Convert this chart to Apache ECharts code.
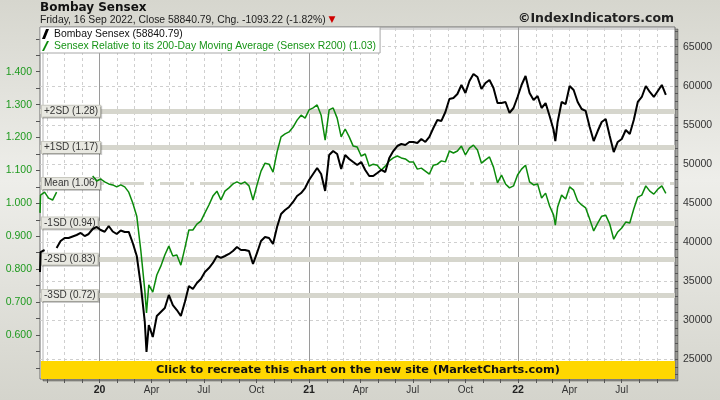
<!DOCTYPE html>
<html>
<head>
<meta charset="utf-8">
<script src="https://cdn.jsdelivr.net/npm/echarts@6/dist/echarts.min.js"></script>
<style>
  html, body { margin: 0; padding: 0; }
  #chart { width: 720px; height: 400px; }
</style>
</head>
<body>
<div id="chart"></div>
<script>
// weekly closes (Fridays), plus a few swing points
var dates = [
  "2019-09-19","2019-09-20","2019-09-27","2019-10-04","2019-10-11","2019-10-18","2019-10-25","2019-11-01","2019-11-08","2019-11-15",
  "2019-11-22","2019-11-29","2019-12-06","2019-12-13","2019-12-20","2019-12-27","2020-01-03","2020-01-10","2020-01-17","2020-01-24",
  "2020-01-31","2020-02-07","2020-02-14","2020-02-21","2020-02-28","2020-03-06","2020-03-13","2020-03-20","2020-03-23","2020-03-27",
  "2020-04-03","2020-04-10","2020-04-17","2020-04-24","2020-05-01","2020-05-08","2020-05-15","2020-05-22","2020-05-29","2020-06-05",
  "2020-06-12","2020-06-19","2020-06-26","2020-07-03","2020-07-10","2020-07-17","2020-07-24","2020-07-31","2020-08-07","2020-08-14",
  "2020-08-21","2020-08-28","2020-09-04","2020-09-11","2020-09-18","2020-09-25","2020-10-02","2020-10-09","2020-10-16","2020-10-23",
  "2020-10-30","2020-11-06","2020-11-13","2020-11-20","2020-11-27","2020-12-04","2020-12-11","2020-12-18","2020-12-25","2021-01-01",
  "2021-01-08","2021-01-15","2021-01-22","2021-01-29","2021-02-05","2021-02-12","2021-02-19","2021-02-26","2021-03-05","2021-03-12",
  "2021-03-19","2021-03-26","2021-04-02","2021-04-09","2021-04-16","2021-04-23","2021-04-30","2021-05-07","2021-05-14","2021-05-21",
  "2021-05-28","2021-06-04","2021-06-11","2021-06-18","2021-06-25","2021-07-02","2021-07-09","2021-07-16","2021-07-23","2021-07-30",
  "2021-08-06","2021-08-13","2021-08-20","2021-08-27","2021-09-03","2021-09-10","2021-09-17","2021-09-24","2021-10-01","2021-10-08",
  "2021-10-15","2021-10-22","2021-10-29","2021-11-05","2021-11-12","2021-11-19","2021-11-26","2021-12-03","2021-12-10","2021-12-17",
  "2021-12-24","2021-12-31","2022-01-07","2022-01-14","2022-01-21","2022-01-28","2022-02-04","2022-02-11","2022-02-18","2022-02-25",
  "2022-03-04","2022-03-07","2022-03-11","2022-03-18","2022-03-25","2022-04-01","2022-04-08","2022-04-15","2022-04-22","2022-04-29",
  "2022-05-06","2022-05-13","2022-05-20","2022-05-27","2022-06-03","2022-06-10","2022-06-17","2022-06-24","2022-07-01","2022-07-08",
  "2022-07-15","2022-07-22","2022-07-29","2022-08-05","2022-08-12","2022-08-19","2022-08-26","2022-09-02","2022-09-09","2022-09-16"
];

var sensex = [
  36140, 38700, 38960, null, null, 39220, 40110, 40500, 40500, 40690,
  40880, 41140, 40750, 41010, 41650, 41910, 41520, 41300, 42030, 41330,
  41010, 41460, 41270, 41270, 39860, 38190, 34480, 29740, 25890, 29350,
  27820, 30510, 31020, 31530, 33200, 31910, 31270, 30510, 32300, 34350,
  33960, 34730, 35250, 36140, 36650, 37300, 38190, 37940, 38190, 38450,
  38830, 39340, 38960, 38960, 38830, 37170, 38580, 40110, 40630, 40500,
  39730, 41910, 43570, 44080, 44470, 45110, 45880, 46260, 46900, 47930,
  48700, 49460, 48700, 46520, 51130, 51640, 51260, 49340, 51130, 50620,
  50230, 49850, 50230, 49210, 48440, 48440, 48820, 49210, 48950, 50750,
  51640, 52280, 52540, 52410, 52800, 52800, 52670, 53180, 52800, 53440,
  54590, 55610, 55490, 56640, 58300, 58430, 58940, 60100, 59070, 60610,
  61510, 61120, 59580, 60350, 60740, 59710, 57790, 57790, 57920, 56510,
  57150, 58560, 60100, 61250, 59070, 58180, 58690, 57150, 57790, 56130,
  54330, 52920, 55360, 57920, 57660, 59970, 59460, 57920, 57020, 56770,
  54720, 52920, 54200, 55360, 55740, 53560, 51510, 52800, 53180, 54330,
  53820, 55610, 57920, 58560, 59970, 59200, 58560, 59330, 60100, 58840.79
];

var r200 = [
  0.971, 1.025, 1.034, 1.016, 1.010, 1.034, null, null, null, null,
  null, null, null, null, 1.083, 1.068, 1.074, 1.065, 1.059, 1.056,
  1.050, 1.056, 1.050, 1.034, 1.001, 0.961, 0.858, 0.736, 0.667, 0.752,
  0.730, 0.782, 0.809, 0.843, 0.870, 0.840, 0.843, 0.812, 0.864, 0.919,
  0.919, 0.937, 0.946, 0.971, 0.995, 1.022, 1.037, 1.010, 1.037, 1.047,
  1.059, 1.065, 1.059, 1.065, 1.053, 1.010, 1.056, 1.098, 1.122, 1.119,
  1.095, 1.156, 1.202, 1.211, 1.217, 1.232, 1.253, 1.268, 1.259, 1.284,
  1.290, 1.299, 1.268, 1.192, 1.284, 1.290, 1.259, 1.202, 1.226, 1.202,
  1.174, 1.171, 1.144, 1.150, 1.113, 1.119, 1.116, 1.101, 1.113, 1.129,
  1.138, 1.144, 1.138, 1.135, 1.126, 1.126, 1.104, 1.107, 1.098, 1.089,
  1.116, 1.119, 1.129, 1.126, 1.159, 1.153, 1.159, 1.174, 1.147, 1.168,
  1.177, 1.162, 1.122, 1.132, 1.141, 1.110, 1.062, 1.086, 1.059, 1.047,
  1.053, 1.086, 1.104, 1.116, 1.065, 1.056, 1.059, 1.016, 1.031, 0.992,
  0.964, 0.934, 0.989, 1.025, 1.013, 1.050, 1.040, 1.007, 0.995, 0.986,
  0.952, 0.916, 0.940, 0.961, 0.964, 0.937, 0.891, 0.913, 0.925, 0.943,
  0.940, 0.983, 1.019, 1.025, 1.053, 1.037, 1.028, 1.043, 1.053, 1.03
];

var quarterDates = ["2020-01-01","2020-04-01","2020-07-01","2020-10-01","2021-01-01","2021-04-01",
                    "2021-07-01","2021-10-01","2022-01-01","2022-04-01","2022-07-01"];
var quarterLabels = ["20","Apr","Jul","Oct","21","Apr","Jul","Oct","22","Apr","Jul"];
var yearStarts = ["2020-01-01","2021-01-01","2022-01-01"];

var sensexTicks = [25000, 30000, 35000, 40000, 45000, 50000, 55000, 60000, 65000];
var ratioTicks = [0.6, 0.7, 0.8, 0.9, 1.0, 1.1, 1.2, 1.3, 1.4];

var sdNames = ["+2SD", "+1SD", "-1SD", "-2SD", "-3SD"];
var sdLevels = [1.28, 1.17, 0.94, 0.83, 0.72];
var meanLevel = 1.06;

var blackName = "Bombay Sensex (58840.79)";
var greenName = "Sensex Relative to its 200-Day Moving Average (Sensex R200) (1.03)";

var FONT = "Liberation Sans";
var parse = function (d) { return +echarts.time.parse(d); };

// month ticks / gridlines
var monthTicks = [];
for (var y = 2019; y <= 2022; y++) {
  for (var m = 1; m <= 12; m++) {
    var s = y + "-" + (m < 10 ? "0" + m : m) + "-01";
    if (s >= "2019-10-01" && s <= "2022-09-01") monthTicks.push(parse(s));
  }
}
var quarterTicks = quarterDates.map(parse);
var yearTicks = yearStarts.map(parse);

var rightMinor = [];
for (var v = 23000; v <= 67000; v += 1000) rightMinor.push(v);
var leftMinor = [];
for (var r = 50; r <= 150; r += 5) leftMinor.push(r / 100);

var gridLines = [];
sensexTicks.forEach(function (v) {
  gridLines.push({ yAxis: v, lineStyle: { color: "#cfcfcf", type: [3, 3], width: 1 } });
});
monthTicks.forEach(function (t) {
  if (yearTicks.indexOf(t) >= 0) {
    gridLines.push({ xAxis: t, lineStyle: { color: "#9a9a9a", type: "solid", width: 1 } });
  } else {
    gridLines.push({ xAxis: t, lineStyle: { color: "#cfcfcf", type: [3, 3], width: 1 } });
  }
});

var bands = sdLevels.map(function (v, i) {
  return {
    yAxis: v,
    lineStyle: { color: "#d6d6cd", width: 5, type: "solid" },
    label: { formatter: sdNames[i] + " (" + v.toFixed(2) + ")" }
  };
});
bands.push({
  yAxis: meanLevel,
  lineStyle: { color: "#d6d6cd", width: 3, type: [24, 6, 4, 6] },
  label: { formatter: "Mean (" + meanLevel.toFixed(2) + ")" }
});

var chart = echarts.init(document.getElementById("chart"));
chart.setOption({
  animation: false,
  backgroundColor: new echarts.graphic.LinearGradient(0, 0, 0, 1, [
    { offset: 0, color: "#d6d6ce" },
    { offset: 0.45, color: "#eeeeea" },
    { offset: 1, color: "#d4d4cc" }
  ]),
  textStyle: { fontFamily: FONT },
  title: [
    {
      text: "Bombay Sensex", left: 40, top: 2, padding: 0,
      textStyle: { fontFamily: "DejaVu Sans", fontWeight: "bold", fontSize: 12, color: "#111" }
    },
    {
      text: "Friday, 16 Sep 2022, Close 58840.79, Chg. -1093.22 (-1.82%) {t|▼}", left: 40, top: 15, padding: 0,
      textStyle: {
        fontFamily: FONT, fontWeight: "normal", fontSize: 10.4, color: "#222",
        rich: { t: { color: "#d00000", fontSize: 9, fontFamily: "DejaVu Sans" } }
      }
    },
    {
      text: "©IndexIndicators.com", right: 46, top: 12, padding: 0,
      textStyle: { fontFamily: "DejaVu Sans", fontWeight: "bold", fontSize: 12.5, color: "#222" }
    }
  ],
  legend: {
    left: 40, top: 27, orient: "vertical",
    backgroundColor: "#fff", borderColor: "#a8a8a8", borderWidth: 1,
    padding: [2, 4, 2, 2], itemGap: 2, itemWidth: 7, itemHeight: 10,
    selectedMode: false,
    textStyle: { fontFamily: FONT, fontSize: 10.4 },
    data: [
      { name: blackName, icon: "path://M4,0 L7,0 L3,10 L0,10 Z", textStyle: { color: "#111" } },
      { name: greenName, icon: "path://M5,0 L7,0 L2,10 L0,10 Z", textStyle: { color: "#179417" } }
    ]
  },
  grid: {
    left: 40, right: 45, top: 27, bottom: 21,
    show: true, backgroundColor: "#fff",
    borderColor: "#6a6a6a", borderWidth: 1,
    shadowColor: "rgba(0,0,0,0.3)", shadowOffsetX: 3, shadowOffsetY: 2, shadowBlur: 0
  },
  xAxis: {
    type: "value",
    min: parse("2019-09-19"), max: parse("2022-10-02"),
    axisLine: { show: false },
    axisTick: { show: true, customValues: monthTicks, length: 4, lineStyle: { color: "#555" } },
    axisLabel: {
      customValues: quarterTicks, margin: 6, fontSize: 10, color: "#333",
      formatter: function (val) {
        var best = 0;
        for (var i = 1; i < quarterTicks.length; i++) {
          if (Math.abs(quarterTicks[i] - val) < Math.abs(quarterTicks[best] - val)) best = i;
        }
        var lab = quarterLabels[best];
        return yearStarts.indexOf(quarterDates[best]) >= 0 ? "{y|" + lab + "}" : lab;
      },
      rich: { y: { fontWeight: "bold", fontSize: 10.5, color: "#222", fontFamily: FONT } }
    },
    splitLine: { show: false }
  },
  yAxis: [
    {
      type: "value", position: "left", min: 0.466, max: 1.536,
      axisLine: { show: false },
      axisTick: { show: true, customValues: leftMinor, length: 4, lineStyle: { color: "#555" } },
      axisLabel: {
        customValues: ratioTicks, margin: 8, fontSize: 10.5, color: "#1f9a1f",
        formatter: function (v) { return v.toFixed(3); }
      },
      splitLine: { show: false }
    },
    {
      type: "value", position: "right", min: 22435, max: 67526,
      axisLine: { show: false },
      axisTick: { show: true, customValues: rightMinor, length: 3, lineStyle: { color: "#555" } },
      axisLabel: {
        customValues: sensexTicks, margin: 8, fontSize: 10.5, color: "#333",
        formatter: function (v) { return String(Math.round(v)); }
      },
      splitLine: { show: false }
    }
  ],
  series: [
    {
      name: greenName, type: "line", xAxisIndex: 0, yAxisIndex: 0,
      data: dates.map(function (d, i) { return [parse(d), r200[i]]; }),
      symbol: "none", z: 3,
      itemStyle: { color: "#0b8a0b" },
      lineStyle: { color: "#0b8a0b", width: 1.5 },
      markLine: {
        silent: true, symbol: "none", z: 2, animation: false,
        label: {
          show: true, position: "insideStartTop", distance: [2, 0],
          verticalAlign: "middle", align: "left",
          fontFamily: FONT, fontSize: 10, color: "#333",
          backgroundColor: "#e8e8e1", borderColor: "#c9c9c0", borderWidth: 1,
          padding: [1, 2, 0, 2],
          shadowColor: "rgba(0,0,0,0.2)", shadowOffsetX: 1, shadowOffsetY: 1
        },
        data: bands
      }
    },
    {
      name: blackName, type: "line", xAxisIndex: 0, yAxisIndex: 1,
      data: dates.map(function (d, i) { return [parse(d), sensex[i]]; }),
      symbol: "none", z: 4,
      itemStyle: { color: "#000" },
      lineStyle: { color: "#000", width: 2 },
      markLine: {
        silent: true, symbol: "none", z: 1, animation: false,
        label: { show: false },
        data: gridLines
      }
    }
  ],
  graphic: [
    {
      type: "rect", left: 41, top: 361, z: 10,
      shape: { width: 634, height: 18 },
      style: { fill: "#ffd700" }
    },
    {
      type: "text", x: 358, y: 370, z: 11,
      style: {
        text: "Click to recreate this chart on the new site (MarketCharts.com)",
        align: "center", verticalAlign: "middle",
        font: "bold 11.3px 'DejaVu Sans'", fill: "#111"
      }
    }
  ]
});
</script>
</body>
</html>
